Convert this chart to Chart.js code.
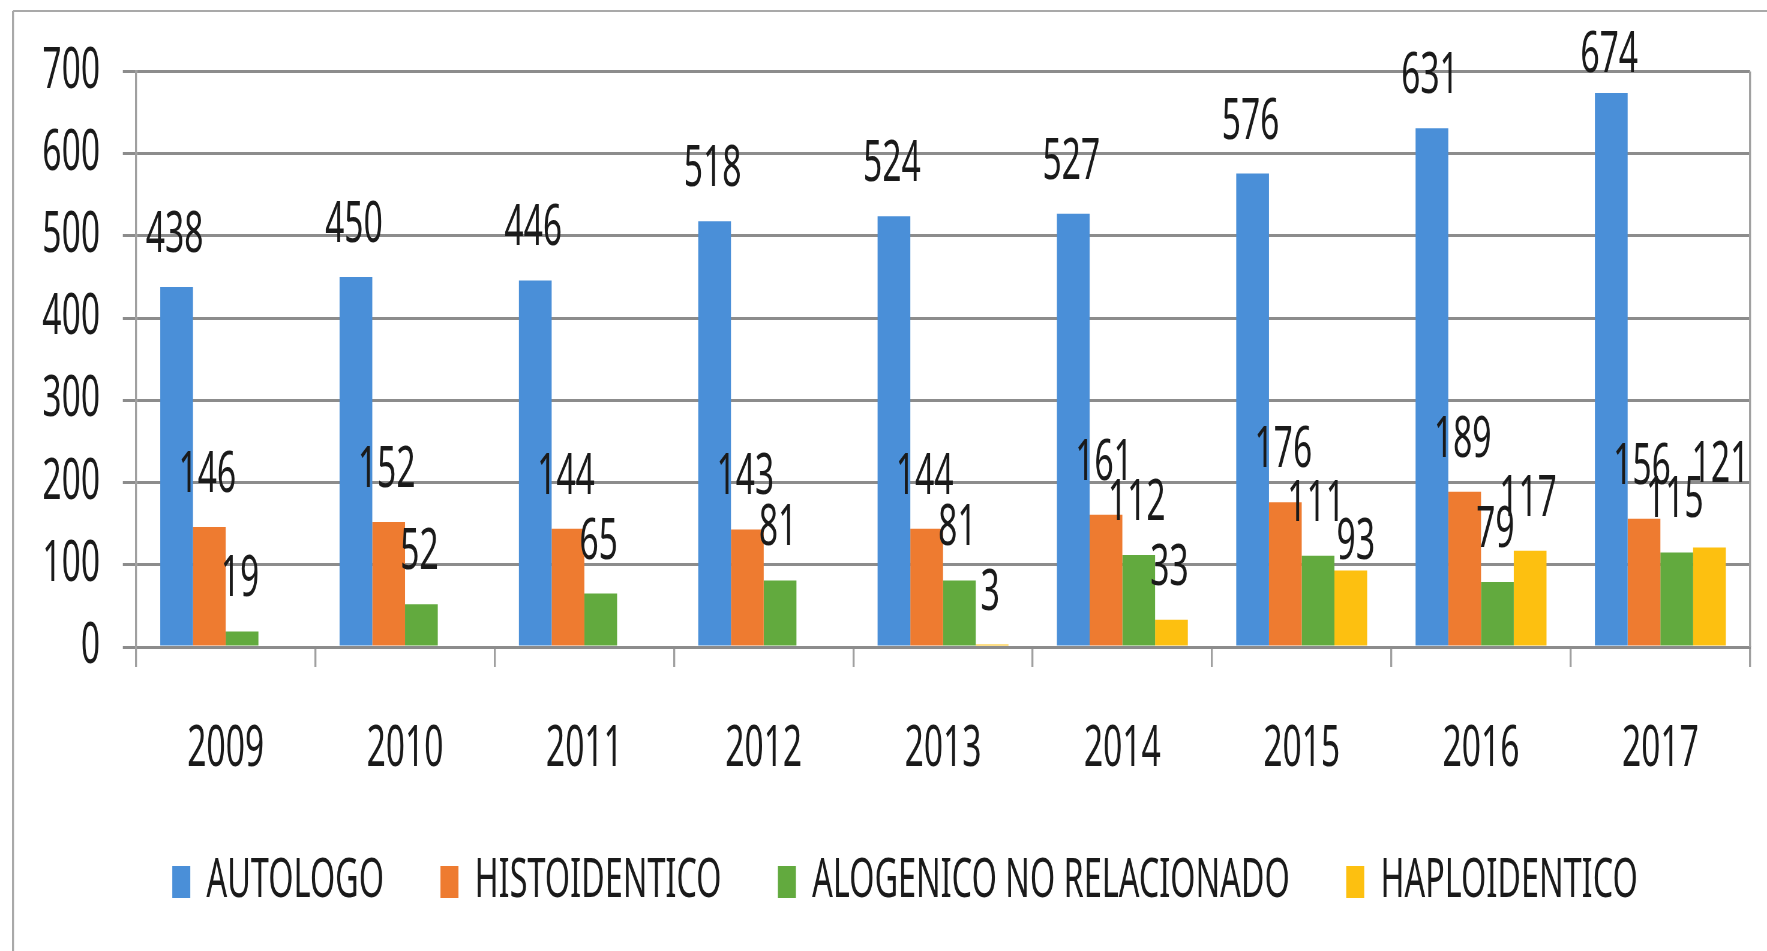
<!DOCTYPE html>
<html lang="es">
<head>
<meta charset="UTF-8">
<title>Trasplantes por año</title>
<script src="https://cdn.jsdelivr.net/npm/chart.js"></script>
<style>
  html, body { margin: 0; padding: 0; background: #fff; overflow: hidden; }
  /* drawn wide, then squeezed sideways for the narrow lettering */
  #wrap { width: 2945px; height: 951px; transform: scaleX(0.6); transform-origin: 0 0; }
</style>
</head>
<body>
<div id="wrap"><canvas id="chart"></canvas></div>
<script>
const years = ['2009', '2010', '2011', '2012', '2013', '2014', '2015', '2016', '2017'];
const autologo = [438, 450, 446, 518, 524, 527, 576, 631, 674];
const histoidentico = [146, 152, 144, 143, 144, 161, 176, 189, 156];
const alogenico = [19, 52, 65, 81, 81, 112, 111, 79, 115];
const haploidentico = [null, null, null, null, 3, 33, 93, 117, 121];

const SX = 0.6;          // horizontal squeeze from the css transform
const FONT = 'Noto Sans';
const INK = '#1a1a1a';

// a few value labels sit off their usual spot (dataset,index -> dx,dy in screen px)
const labelNudge = { '0,8': [0, 14], '3,6': [7, 23], '3,8': [13, -31] };

const frame = {
  id: 'frame',
  beforeDraw(chart) {
    const ctx = chart.ctx;
    ctx.save();
    ctx.fillStyle = '#fff';
    ctx.fillRect(0, 0, chart.width, chart.height);
    ctx.strokeStyle = '#a9a9a9';
    ctx.lineWidth = 2 / SX;
    ctx.beginPath(); ctx.moveTo(13 / SX, 11); ctx.lineTo(13 / SX, chart.height); ctx.stroke();
    ctx.lineWidth = 2;
    ctx.beginPath(); ctx.moveTo(13 / SX, 11); ctx.lineTo(chart.width, 11); ctx.stroke();
    ctx.restore();
  },
  beforeDatasetsDraw(chart) {
    const ctx = chart.ctx, a = chart.chartArea;
    ctx.save();
    ctx.strokeStyle = '#a0a0a0';
    ctx.lineWidth = 2 / SX;
    ctx.beginPath(); ctx.moveTo(a.right, a.top); ctx.lineTo(a.right, a.bottom); ctx.stroke();
    ctx.restore();
  }
};

// move the legend a bit right and up from where the layout puts it
const legendShift = {
  id: 'legendShift',
  afterLayout(chart) {
    const lg = chart.legend;
    lg.left += 35; lg.right += 35;
    lg.top -= 16; lg.bottom -= 16;
  }
};

const valueLabels = {
  id: 'valueLabels',
  afterDatasetsDraw(chart) {
    const ctx = chart.ctx;
    ctx.save();
    ctx.font = `56px "${FONT}"`;
    ctx.fillStyle = INK;
    ctx.textAlign = 'center';
    ctx.textBaseline = 'alphabetic';
    chart.data.datasets.forEach((ds, di) => {
      chart.getDatasetMeta(di).data.forEach((bar, i) => {
        const v = ds.data[i];
        if (v === null) return;
        const [dx, dy] = labelNudge[di + ',' + i] || [0, 0];
        ctx.fillText(String(v), bar.x + (dx - 2) / SX, bar.y - 35 + dy);
      });
    });
    ctx.restore();
  }
};

new Chart(document.getElementById('chart'), {
  type: 'bar',
  data: {
    labels: years,
    datasets: [
      { label: 'AUTOLOGO', data: autologo, backgroundColor: '#4a8fd8' },
      { label: 'HISTOIDENTICO', data: histoidentico, backgroundColor: '#ee7b30' },
      { label: 'ALOGENICO NO RELACIONADO', data: alogenico, backgroundColor: '#62aa3e' },
      { label: 'HAPLOIDENTICO', data: haploidentico, backgroundColor: '#fdc010' }
    ]
  },
  options: {
    responsive: true,
    maintainAspectRatio: false,
    devicePixelRatio: 1,
    animation: false,
    datasets: { bar: { categoryPercentage: 0.73, barPercentage: 1.0 } },
    layout: { padding: { left: 30, right: 28.3, top: 70, bottom: 16 } },
    plugins: {
      tooltip: { enabled: false },
      legend: {
        position: 'bottom',
        labels: {
          color: INK,
          font: { family: FONT, size: 54 },
          boxWidth: 30,
          boxHeight: 32,
          padding: 94
        }
      }
    },
    scales: {
      x: {
        offset: true,
        grid: { drawOnChartArea: false, drawTicks: true, tickLength: 20, color: '#a0a0a0', lineWidth: 2 / SX },
        border: { display: true, color: '#8c8c8c', width: 3 },
        ticks: { color: INK, font: { family: FONT, size: 56 }, padding: 49, maxRotation: 0 },
        afterFit(s) { s.height = 130; }
      },
      y: {
        min: 0,
        max: 700,
        ticks: { stepSize: 100, color: INK, font: { family: FONT, size: 56 }, padding: 38 },
        grid: { color: '#8c8c8c', lineWidth: 3, tickLength: 22 },
        border: { display: true, color: '#a0a0a0', width: 2 / SX },
        afterFit(s) { s.width = 196.7; }
      }
    }
  },
  plugins: [frame, legendShift, valueLabels]
});
</script>
</body>
</html>
